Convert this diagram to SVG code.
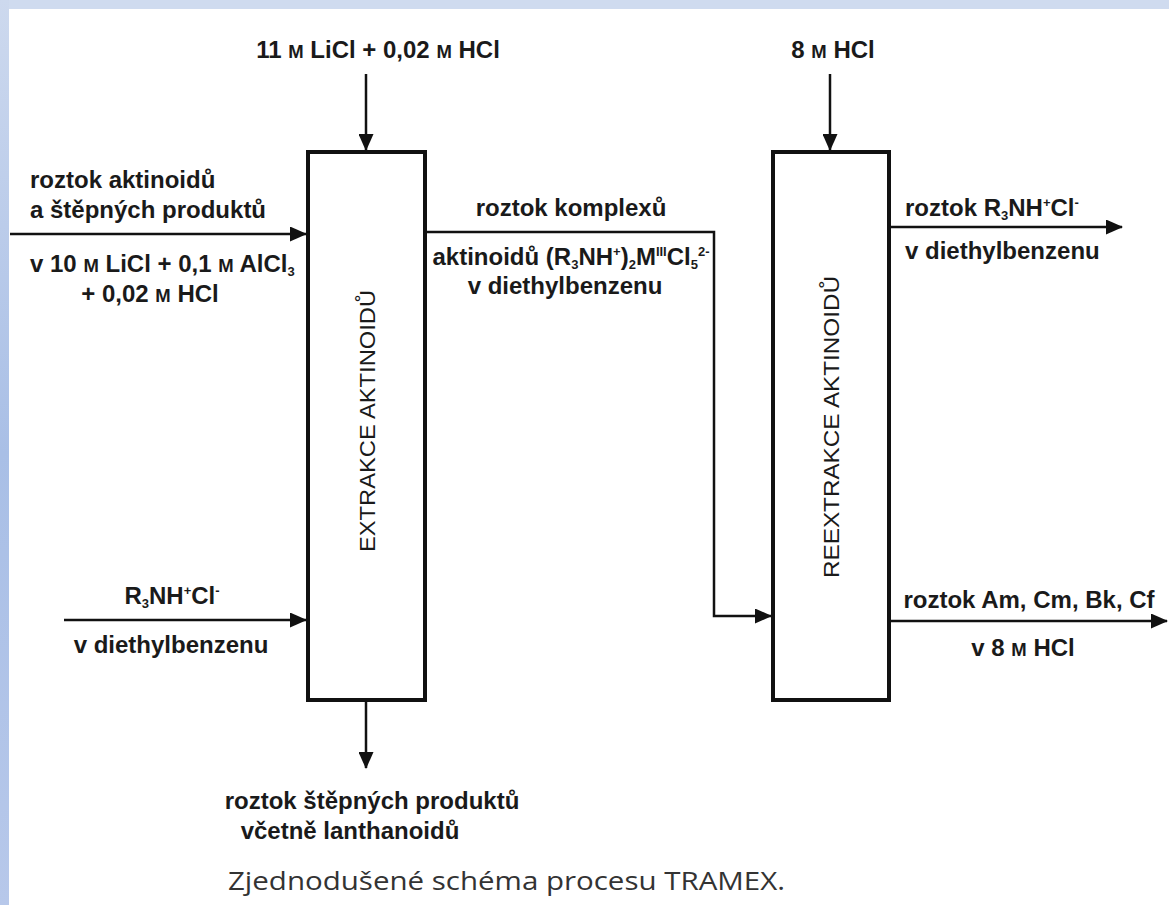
<svg xmlns="http://www.w3.org/2000/svg" width="1169" height="905" viewBox="0 0 1169 905">
<defs>
<linearGradient id="side" x1="0" y1="0" x2="0" y2="1">
<stop offset="0" stop-color="#cdd9ee"/>
<stop offset="0.5" stop-color="#a9bfe6"/>
<stop offset="1" stop-color="#b7c8ea"/>
</linearGradient>
<marker id="ah" markerUnits="userSpaceOnUse" markerWidth="17" markerHeight="15" refX="16" refY="7.5" orient="auto">
<path d="M0,0 L17,7.5 L0,15 Z" fill="#111"/>
</marker>
<style>
.lbl{font-family:"Liberation Sans",Arial,sans-serif;font-weight:bold;font-size:24px;fill:#1a1a1a}
.sm{font-size:18.5px}
.sup{font-size:13px}
.vt{font-family:"Liberation Sans",Arial,sans-serif;font-size:22px;fill:#1a1a1a}
.box{fill:#fff;stroke:#111;stroke-width:4}
.ln{fill:none;stroke:#111;stroke-width:2.5}
.cap{font-family:"Open Sans","Noto Sans",sans-serif;font-size:25px;fill:#333}
</style>
</defs>
<rect x="0" y="0" width="1169" height="905" fill="#fff"/>
<rect x="0" y="0" width="1169" height="9" fill="#cfdbef"/>
<rect x="0" y="0" width="9" height="905" fill="url(#side)"/>

<g id="connectors">
<line class="ln" x1="366" y1="74" x2="366" y2="150" marker-end="url(#ah)"/>
<line class="ln" x1="10" y1="234" x2="306" y2="234" marker-end="url(#ah)"/>
<line class="ln" x1="64" y1="620" x2="306" y2="620" marker-end="url(#ah)"/>
<line class="ln" x1="366" y1="702" x2="366" y2="768" marker-end="url(#ah)"/>
<polyline class="ln" points="427,232 714,232 714,616 771,616" marker-end="url(#ah)"/>
<line class="ln" x1="830" y1="74" x2="830" y2="150" marker-end="url(#ah)"/>
<line class="ln" x1="891" y1="227" x2="1122" y2="227" marker-end="url(#ah)"/>
<line class="ln" x1="891" y1="621" x2="1167" y2="621" marker-end="url(#ah)"/>
</g>

<g id="extrakce">
<rect class="box" x="308" y="152" width="117" height="548"/>
<text class="vt" transform="translate(367,421) rotate(-90)" x="0" y="8" text-anchor="middle" textLength="262" lengthAdjust="spacingAndGlyphs">EXTRAKCE AKTINOIDŮ</text>
</g>

<g id="reextrakce">
<rect class="box" x="773" y="152" width="116" height="548"/>
<text class="vt" transform="translate(831,427) rotate(-90)" x="0" y="8" text-anchor="middle" textLength="302" lengthAdjust="spacingAndGlyphs">REEXTRAKCE AKTINOIDŮ</text>
</g>

<g id="labels">
<text class="lbl" x="378" y="58" text-anchor="middle">11 <tspan class="sm">M</tspan> LiCl + 0,02 <tspan class="sm">M</tspan> HCl</text>
<text class="lbl" x="30" y="188">roztok aktinoidů</text>
<text class="lbl" x="30" y="218">a štěpných produktů</text>
<text class="lbl" x="30" y="272">v 10 <tspan class="sm">M</tspan> LiCl + 0,1 <tspan class="sm">M</tspan> AlCl<tspan class="sup" dy="4">3</tspan></text>
<text class="lbl" x="150" y="302" text-anchor="middle">+ 0,02 <tspan class="sm">M</tspan> HCl</text>
<text class="lbl" x="172" y="604" text-anchor="middle">R<tspan class="sup" dy="4">3</tspan><tspan dy="-4">NH</tspan><tspan class="sup" dy="-9">+</tspan><tspan dy="9">Cl</tspan><tspan class="sup" dy="-9">-</tspan></text>
<text class="lbl" x="171" y="653" text-anchor="middle">v diethylbenzenu</text>
<text class="lbl" x="372" y="809" text-anchor="middle">roztok štěpných produktů</text>
<text class="lbl" x="350" y="839" text-anchor="middle">včetně lanthanoidů</text>
<text class="lbl" x="571" y="216" text-anchor="middle">roztok komplexů</text>
<text class="lbl" x="571" y="265" text-anchor="middle">aktinoidů (R<tspan class="sup" dy="4">3</tspan><tspan dy="-4">NH</tspan><tspan class="sup" dy="-9">+</tspan><tspan dy="9">)</tspan><tspan class="sup" dy="4">2</tspan><tspan dy="-4">M</tspan><tspan class="sup" dy="-9">III</tspan><tspan dy="9">Cl</tspan><tspan class="sup" dy="4">5</tspan><tspan class="sup" dy="-13">2-</tspan></text>
<text class="lbl" x="565" y="294" text-anchor="middle">v diethylbenzenu</text>
<text class="lbl" x="833" y="58" text-anchor="middle">8 <tspan class="sm">M</tspan> HCl</text>
<text class="lbl" x="905" y="216">roztok R<tspan class="sup" dy="4">3</tspan><tspan dy="-4">NH</tspan><tspan class="sup" dy="-9">+</tspan><tspan dy="9">Cl</tspan><tspan class="sup" dy="-9">-</tspan></text>
<text class="lbl" x="905" y="259">v diethylbenzenu</text>
<text class="lbl" x="1029" y="608" text-anchor="middle">roztok Am, Cm, Bk, Cf</text>
<text class="lbl" x="1023" y="656" text-anchor="middle">v 8 <tspan class="sm">M</tspan> HCl</text>
<text class="cap" x="228" y="890" textLength="557" lengthAdjust="spacingAndGlyphs">Zjednodušené schéma procesu TRAMEX.</text>
</g>
</svg>
